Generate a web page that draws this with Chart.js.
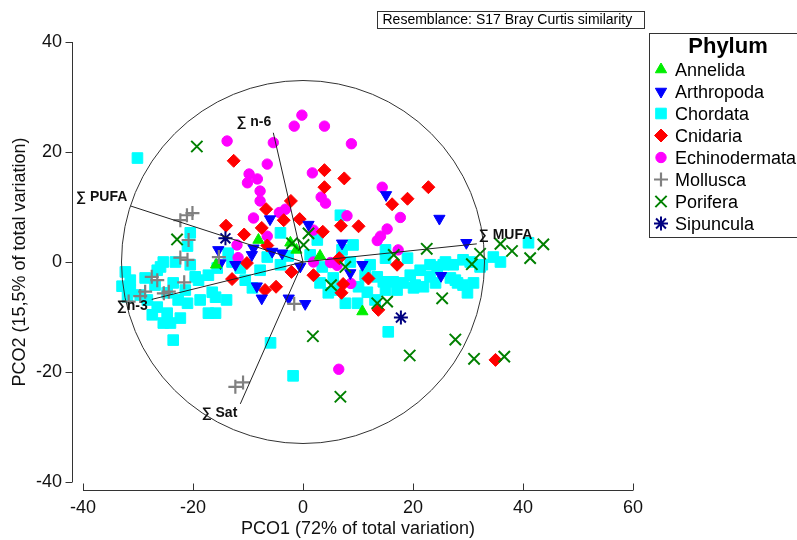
<!DOCTYPE html>
<html><head><meta charset="utf-8">
<script src="https://cdn.jsdelivr.net/npm/chart.js@4/dist/chart.umd.min.js"></script>
<style>html,body{margin:0;padding:0;background:#fff;}#wrap{width:797px;height:540px;}</style>
</head><body><div id="wrap"><canvas id="c" width="797" height="540"></canvas></div>
<script>
const xTicks = [-40, -20, 0, 20, 40, 60];
const yTicks = [-40, -20, 0, 20, 40];
const xTitle = 'PCO1 (72% of total variation)';
const yTitle = 'PCO2 (15,5% of total variation)';
const resemblance = 'Resemblance: S17 Bray Curtis similarity';
const legendTitle = 'Phylum';
const phyla = ['Annelida','Arthropoda','Chordata','Cnidaria','Echinodermata','Mollusca','Porifera','Sipuncula'];

const annelida = [[-2.3,3.5],[-1.2,2.2],[-8.1,4.0],[3.1,1.1],[10.8,-9.0],[-15.8,-0.5]];
const arthropoda = [[15.1,12.2],[24.8,7.9],[29.7,3.5],[7.1,3.4],[10.8,-0.5],[8.6,-2.0],[25.1,-2.5],[-6.0,7.8],[1.0,6.8],[-9.0,2.5],[-5.6,1.9],[-9.3,1.3],[-15.0,-0.2],[-3.8,1.6],[-0.5,-0.8],[-8.4,-4.4],[-7.5,-6.6],[-2.6,-6.6],[0.4,-7.6],[-12.3,-0.5],[-15.4,2.2]];
const chordata = [[-30.1,18.9],[-20.5,5.3],[-21.0,2.9],[-25.4,0],[-25.9,-0.9],[-20.5,-0.5],[-19.6,-2.7],[-17.2,-2.4],[-28.7,-2.9],[-31.4,-5.1],[-31.9,-6.4],[-24.7,-5.6],[-28.3,-6.9],[-26.5,-8.2],[-24.7,-9.3],[-24.1,-11.1],[-21.0,-7.5],[-17.2,-9.3],[-27.4,-9.6],[-23.6,-3.8],[-23.6,-14.2],[-15.9,-6.4],[-19.0,-3.3],[-25.4,-11.1],[-31.4,-3.3],[-29.6,-6.0],[-26.9,-4.2],[-22.7,-6.9],[-22.3,-10.2],[-18.7,-6.9],[-21.4,-5.1],[-32.9,-4.4],[-15.9,-9.3],[-32.3,-1.8],[-26.5,-1.5],[-23.2,0],
[-15.6,-1.1],[-13.6,1.6],[-11.4,-1.1],[-4.1,-0.5],[-9.2,-4.7],[-6.5,0.9],[-4.1,5.3],[-12.9,0],[-7.8,-1.5],[-10.5,-3.3],[-16.5,-5.5],[-13.9,-6.9],[-5.9,-14.7],[-1.8,-20.7],[-2.7,1.1],
[2.6,4.0],[3.5,-0.9],[3.1,-3.8],[4.6,-5.6],[6.8,8.5],[9.1,3.1],[7.1,2.2],[15.0,2.2],[15.0,0.7],[19.0,0.7],[12.2,-0.5],[13.5,-2.7],[14.6,-3.6],[16.4,-3.6],[18.2,-3.8],[20.4,-4.2],[15.0,-5.1],[17.1,-5.1],[10.1,-4.5],[7.7,-7.5],[9.9,-7.5],[15.5,-12.7],[5.5,-2.9],[8.6,0],[11.3,-2.4],[1.3,1.3],[5.9,-5.1],[11.7,-5.5],[13.1,-6.9],
[23.1,-0.5],[25.5,-0.5],[27.3,-0.5],[23.1,-2.7],[26.8,-2.9],[28.1,-3.8],[41.0,3.5],[34.6,0.9],[32.6,-0.5],[30.4,0],[29.1,0.4],[25.9,0],[27.7,-3.3],[29.1,-4.2],[29.9,-5.6],[31.0,-3.8],[24.4,-0.9],[24.1,-3.8],[21.9,-4.5],[20.1,-4.7],[32.2,-0.9],[35.9,0],[21.3,-1.5],[19.5,-2.4]];
const cnidaria = [[-12.6,18.4],[3.9,16.7],[7.5,15.2],[3.9,13.6],[-2.2,11.1],[-6.7,9.6],[-3.5,7.6],[-0.6,7.8],[6.9,6.6],[10.1,6.5],[3.6,5.5],[-14.0,6.6],[-10.7,5.0],[-7.5,6.2],[-6.5,3.0],[16.2,10.5],[19.0,11.5],[22.8,13.6],[-10.2,-0.2],[6.6,0.7],[17.1,-0.5],[11.9,-3.0],[7.3,-4.0],[7.0,-5.6],[13.7,-8.7],[-2.1,-1.8],[1.9,-2.4],[-12.9,-3.1],[-6.9,-5.1],[-4.9,-4.5],[35.0,-17.8]];
const echinodermata = [[-0.2,26.7],[-1.6,24.7],[3.9,24.7],[-13.8,22.0],[-5.4,21.7],[8.8,21.5],[-6.5,17.8],[1.7,16.2],[-9.8,16.0],[-8.3,15.1],[-10.1,14.4],[-7.8,12.9],[-7.8,11.1],[3.3,11.8],[4.1,10.7],[14.4,13.6],[17.7,8.1],[15.3,6.0],[14.1,4.7],[13.5,3.9],[17.3,2.2],[-4.3,9.0],[-3.2,9.6],[-9.0,8.0],[-6.5,4.7],[1.9,5.8],[8.0,8.4],[-12.0,3.1],[-11.8,0.8],[1.9,0],[5.0,-0.1],[6.2,-0.6],[8.7,-3.9],[6.5,-19.5]];
const mollusca = [[-21.1,8.5],[-20.1,8.9],[-22.3,7.6],[-20.8,4.0],[-22.3,0.8],[-21.0,0.4],[-15.3,0.9],[-27.5,-2.7],[-26.5,-3.3],[-28.7,-5.4],[-25.3,-5.7],[-24.4,-5.4],[-31.7,-7.2],[-21.6,-3.7],[-1.6,-7.6],[-12.3,-22.7],[-10.9,-21.9],[-29.6,-6.2]];
const porifera = [[-19.3,21.0],[-22.9,4.1],[-2.0,3.4],[0.1,3.1],[1.0,5.2],[22.5,2.4],[16.5,1.3],[7.7,-0.9],[5.1,-4.2],[13.5,-7.5],[15.3,-7.2],[25.3,-6.6],[32.2,1.5],[30.7,-0.4],[35.9,3.3],[38.0,2.0],[41.3,0.7],[43.7,3.2],[27.7,-14.1],[19.4,-17.0],[31.1,-17.6],[36.6,-17.2],[1.8,-13.5],[6.8,-24.5]];
const sipuncula = [[-14.1,4.3],[17.8,-10.1]];

const vectorNames = ['\u2211 n-6','\u2211 PUFA','\u2211 MUFA','\u2211n-3','\u2211 Sat'];
const vectorX = [-5.4, -31.4, 31.6, -27.5, -11.4];
const vectorY = [23.5, 10.2, 3.3, -6.8, -25.8];
const circleRadius = 33;

const FONT = '"Liberation Sans", Arial, sans-serif';
const styles = [
  {style:'triangle', rot:0,   r:6.5, fill:'#00ee00', stroke:'#00ee00', bw:1, order:5},
  {style:'triangle', rot:180, r:6.5, fill:'#0000ff', stroke:'#0000ff', bw:1, order:6},
  {style:'rect',     rot:0,   r:7.5, fill:'#00ffff', stroke:'#00ffff', bw:1, order:9},
  {style:'rectRot',  rot:0,   r:6.5, fill:'#ff0000', stroke:'#ff0000', bw:1, order:7},
  {style:'circle',   rot:0,   r:5.2, fill:'#ff00ff', stroke:'#ff00ff', bw:1, order:8},
  {style:'cross',    rot:0,   r:7,   fill:'#808080', stroke:'#808080', bw:2.2, order:4},
  {style:'crossRot', rot:0,   r:8,   fill:'#008000', stroke:'#008000', bw:2, order:3},
  {style:'star',     rot:0,   r:7,   fill:'#000080', stroke:'#000080', bw:2, order:2}
];
const seriesData = [annelida, arthropoda, chordata, cnidaria, echinodermata, mollusca, porifera, sipuncula];

const datasets = phyla.map((name, i) => ({
  label: name,
  type: 'scatter',
  data: seriesData[i].map(p => ({x: p[0], y: p[1]})),
  pointStyle: styles[i].style,
  rotation: styles[i].rot,
  pointRadius: styles[i].r,
  pointBackgroundColor: styles[i].fill,
  pointBorderColor: styles[i].stroke,
  pointBorderWidth: styles[i].bw,
  order: styles[i].order,
  showLine: false
}));
vectorNames.forEach((n, i) => {
  datasets.push({
    label: n, type: 'scatter', showLine: true,
    data: [{x: 0, y: 0}, {x: vectorX[i], y: vectorY[i]}],
    borderColor: '#222', borderWidth: 1, pointRadius: 0, order: 1
  });
});

function drawMarker(ctx, s, x, y) {
  ctx.save();
  ctx.fillStyle = s.fill; ctx.strokeStyle = s.stroke; ctx.lineWidth = s.bw;
  const r = s.r;
  ctx.beginPath();
  if (s.style === 'triangle') {
    let rad = s.rot * Math.PI / 180;
    for (let k = 0; k < 3; k++) {
      const px = x + Math.sin(rad) * r, py = y - Math.cos(rad) * r;
      if (k === 0) ctx.moveTo(px, py); else ctx.lineTo(px, py);
      rad += 2 * Math.PI / 3;
    }
    ctx.closePath(); ctx.fill(); ctx.stroke();
  } else if (s.style === 'rect') {
    const h = Math.SQRT1_2 * r; ctx.rect(x - h, y - h, 2 * h, 2 * h); ctx.fill(); ctx.stroke();
  } else if (s.style === 'rectRot') {
    ctx.moveTo(x - r, y); ctx.lineTo(x, y - r); ctx.lineTo(x + r, y); ctx.lineTo(x, y + r); ctx.closePath(); ctx.fill(); ctx.stroke();
  } else if (s.style === 'circle') {
    ctx.arc(x, y, r, 0, Math.PI * 2); ctx.fill(); ctx.stroke();
  } else if (s.style === 'cross') {
    ctx.moveTo(x - r, y); ctx.lineTo(x + r, y); ctx.moveTo(x, y - r); ctx.lineTo(x, y + r); ctx.stroke();
  } else if (s.style === 'crossRot') {
    const d = r * Math.SQRT1_2;
    ctx.moveTo(x - d, y - d); ctx.lineTo(x + d, y + d); ctx.moveTo(x + d, y - d); ctx.lineTo(x - d, y + d); ctx.stroke();
  } else if (s.style === 'star') {
    const d = r * Math.SQRT1_2;
    ctx.moveTo(x - r, y); ctx.lineTo(x + r, y); ctx.moveTo(x, y - r); ctx.lineTo(x, y + r);
    ctx.moveTo(x - d, y - d); ctx.lineTo(x + d, y + d); ctx.moveTo(x + d, y - d); ctx.lineTo(x - d, y + d); ctx.stroke();
  }
  ctx.restore();
}

const labelOffsets = [[-2, -11, 'right'], [-3, -9, 'right'], [2, -9, 'left'], [-4, 7, 'right'], [-3, 9, 'right']];

const decor = {
  id: 'decor',
  afterDatasetsDraw(chart) {
    const {ctx, chartArea: a} = chart;
    const xs = chart.scales.x, ys = chart.scales.y;
    ctx.save();
    // correlation circle
    const cx = xs.getPixelForValue(0), cy = ys.getPixelForValue(0);
    const rx = xs.getPixelForValue(circleRadius) - cx, ry = cy - ys.getPixelForValue(circleRadius);
    ctx.beginPath(); ctx.ellipse(cx, cy, rx, ry, 0, 0, Math.PI * 2);
    ctx.strokeStyle = '#333'; ctx.lineWidth = 1; ctx.stroke();
    // vector labels
    ctx.font = 'bold 14px ' + FONT; ctx.fillStyle = '#111'; ctx.textBaseline = 'middle';
    vectorNames.forEach((n, i) => {
      const px = xs.getPixelForValue(vectorX[i]), py = ys.getPixelForValue(vectorY[i]);
      const o = labelOffsets[i];
      ctx.textAlign = o[2];
      ctx.fillText(n, px + o[0], py + o[1]);
    });
    // axes lines and tick marks
    ctx.strokeStyle = '#333'; ctx.lineWidth = 1;
    const axX = Math.round(a.left - 11) + 0.5;
    ctx.beginPath();
    ctx.moveTo(axX, ys.getPixelForValue(yTicks[yTicks.length - 1]));
    ctx.lineTo(axX, ys.getPixelForValue(yTicks[0]));
    yTicks.forEach(v => { const p = Math.round(ys.getPixelForValue(v)) + 0.5; ctx.moveTo(axX - 7, p); ctx.lineTo(axX, p); });
    const axY = Math.round(a.bottom + 8) + 0.5;
    ctx.moveTo(xs.getPixelForValue(xTicks[0]), axY);
    ctx.lineTo(xs.getPixelForValue(xTicks[xTicks.length - 1]), axY);
    xTicks.forEach(v => { const p = Math.round(xs.getPixelForValue(v)) + 0.5; ctx.moveTo(p, axY); ctx.lineTo(p, axY - 7); });
    ctx.stroke();
    // resemblance box
    ctx.font = '14px ' + FONT; ctx.fillStyle = '#000'; ctx.textAlign = 'left'; ctx.textBaseline = 'middle';
    ctx.fillText(resemblance, 382.5, 20);
    ctx.strokeRect(377.5, 11.5, 267, 17);
    // legend
    ctx.fillStyle = '#fff'; ctx.fillRect(649.5, 33.5, 160, 204);
    ctx.strokeStyle = '#333'; ctx.strokeRect(649.5, 33.5, 160, 204);
    ctx.fillStyle = '#000'; ctx.textAlign = 'center'; ctx.textBaseline = 'alphabetic';
    ctx.font = 'bold 22px ' + FONT;
    ctx.fillText(legendTitle, 728, 53);
    ctx.font = '18px ' + FONT; ctx.textAlign = 'left';
    phyla.forEach((n, i) => {
      const by = 76 + 22 * i;
      drawMarker(ctx, styles[i], 661, by - 6.5);
      ctx.fillStyle = '#000';
      ctx.fillText(n, 675, by);
    });
    ctx.restore();
  }
};

new Chart(document.getElementById('c'), {
  type: 'scatter',
  data: {datasets},
  options: {
    responsive: false, animation: false, events: [],
    devicePixelRatio: 1,
    layout: {padding: {top: 42, right: 164, bottom: 0, left: 0}},
    plugins: {legend: {display: false}, title: {display: false}, tooltip: {enabled: false}},
    scales: {
      x: {
        type: 'linear', min: -40, max: 60,
        afterBuildTicks: s => { s.ticks = xTicks.map(v => ({value: v})); },
        afterFit: s => { s.height = 58; },
        grid: {display: false, drawTicks: false},
        border: {display: false},
        ticks: {padding: 15, color: '#111', font: {size: 18, family: FONT}, maxRotation: 0, autoSkip: false},
        title: {display: true, text: xTitle, color: '#111', font: {size: 18, family: FONT}, padding: {top: 0, bottom: 0}}
      },
      y: {
        type: 'linear', min: -40, max: 40,
        afterBuildTicks: s => { s.ticks = yTicks.map(v => ({value: v})); },
        afterFit: s => { s.width = 83; },
        grid: {display: false, drawTicks: false},
        border: {display: false},
        ticks: {padding: 21, color: '#111', font: {size: 18, family: FONT}, autoSkip: false},
        title: {display: true, text: yTitle, color: '#111', font: {size: 18, family: FONT}, padding: {top: 9, bottom: 0}}
      }
    }
  },
  plugins: [decor]
});
</script></body></html>
